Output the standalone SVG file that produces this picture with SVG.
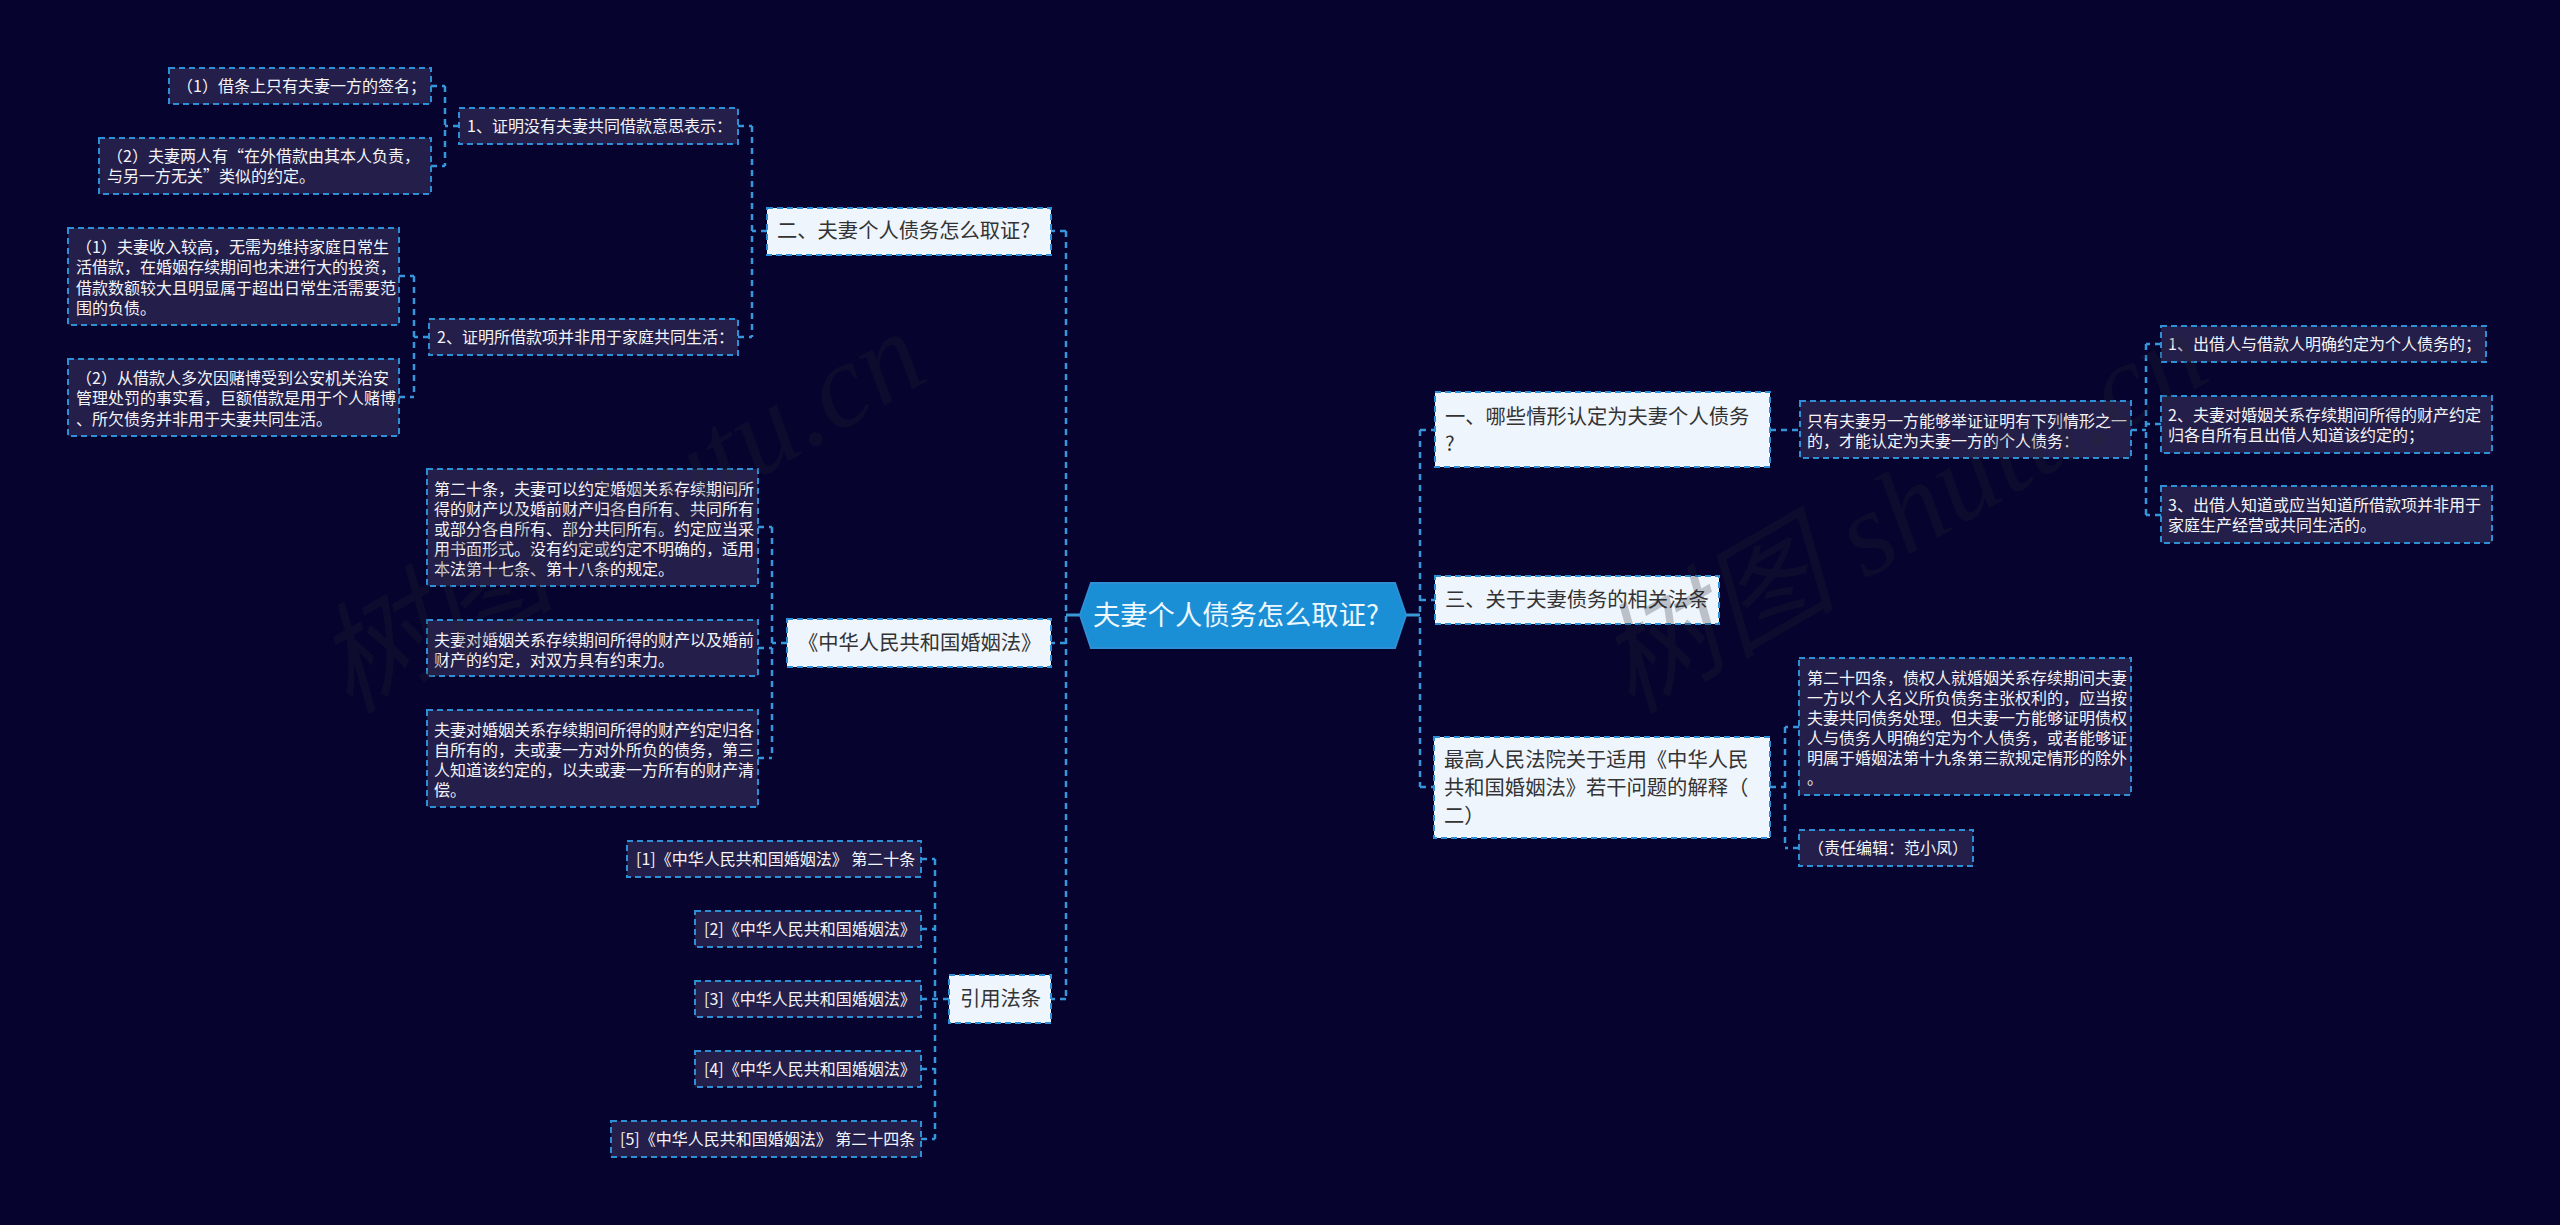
<svg xmlns="http://www.w3.org/2000/svg" width="2560" height="1225" viewBox="0 0 2560 1225">
<style>
text{font-family:"Noto Sans CJK SC","Noto Sans",sans-serif}
.d rect{fill:#241f4a;stroke:#2d8fd5;stroke-width:2;stroke-dasharray:6 4}
.d text{fill:#f4f4f8;font-size:16px}
.b rect{fill:#eff5fd;stroke:#2d8fd5;stroke-width:2;stroke-dasharray:6 4}
.b text{fill:#333;font-size:20.3px}
#connectors path{fill:none;stroke:#3596dc;stroke-width:2.5;stroke-dasharray:6 5}
#connectors path.s{stroke-dasharray:none;stroke:#3a9ad8;stroke-width:3}
#root polygon{fill:#1a8fd5;stroke:#2d8fd5;stroke-width:2}
#root text{fill:#eef8ff;font-size:27.3px}
.w text{font-family:"Liberation Serif","Noto Sans CJK SC",serif;fill:#23232f;fill-opacity:.25;font-size:120px;font-style:italic}
</style>
<rect width="2560" height="1225" fill="#06032e"/>
<g id="connectors">
<path class="s" d="M1080 615H1066"/><path class="s" d="M1406 615H1420"/>
<path d="M1066 231V999"/><path d="M1420 430V787"/>
<path d="M1066 231H1051M1066 643H1051M1066 999H1051"/>
<path d="M1420 430H1435M1420 600H1435M1420 787H1435"/>
<path d="M767 231H752M752 126V337M738 126H752M738 337H752"/>
<path d="M459 126H445M445 86V166M431 86H445M431 166H445"/>
<path d="M429 337H414M414 276V397M399 276H414M399 397H414"/>
<path d="M787 643H772M772 527V758M758 527H772M758 648H772M758 758H772"/>
<path d="M949 999H935M935 859V1139M921 859H935M921 929H935M921 999H935M921 1069H935M921 1139H935"/>
<path d="M1770 430H1800"/>
<path d="M2131 430H2146M2146 344V515M2161 344H2146M2161 424H2146M2161 515H2146"/>
<path d="M1770 787H1785M1785 727V848M1799 727H1785M1799 848H1785"/>
</g>
<g id="root"><polygon points="1080,615 1091,583 1395,583 1406,615 1395,648 1091,648"/><text x="1093" y="625">夫妻个人债务怎么取证?</text></g>

<g id="n-er" class="b"><rect x="767" y="208" width="284" height="47"/><text x="777" y="238">二、夫妻个人债务怎么取证?</text></g>
<g id="n-law" class="b"><rect x="787" y="619" width="264" height="48"/><text x="798" y="650">《中华人民共和国婚姻法》</text></g>
<g id="n-cite" class="b"><rect x="949" y="975" width="102" height="48"/><text x="960" y="1006">引用法条</text></g>
<g id="n-yi" class="b"><rect x="1435" y="392" width="335" height="75"/><text x="1445" y="424">一、哪些情形认定为夫妻个人债务<tspan x="1445" y="451">?</tspan></text></g>
<g id="n-san" class="b"><rect x="1435" y="576" width="284" height="48"/><text x="1445" y="607">三、关于夫妻债务的相关法条</text></g>
<g id="n-zuigao" class="b"><rect x="1434" y="737" width="336" height="101"/><text x="1444" y="767">最高人民法院关于适用《中华人民<tspan x="1444" y="795">共和国婚姻法》若干问题的解释（</tspan><tspan x="1444" y="823">二）</tspan></text></g>

<g id="a1" class="d"><rect x="169" y="68" width="262" height="36"/><text x="177" y="92">（1）借条上只有夫妻一方的签名；</text></g>
<g id="a2" class="d"><rect x="99" y="138" width="332" height="56"/><text x="107" y="162">（2）夫妻两人有“在外借款由其本人负责，<tspan x="107" y="182">与另一方无关”类似的约定。</tspan></text></g>
<g id="a3" class="d"><rect x="459" y="108" width="279" height="36"/><text x="467" y="132">1、证明没有夫妻共同借款意思表示：</text></g>
<g id="a4" class="d"><rect x="68" y="228" width="331" height="97"/><text x="76" y="253">（1）夫妻收入较高，无需为维持家庭日常生<tspan x="76" y="273">活借款，在婚姻存续期间也未进行大的投资，</tspan><tspan x="76" y="294">借款数额较大且明显属于超出日常生活需要范</tspan><tspan x="76" y="314">围的负债。</tspan></text></g>
<g id="a5" class="d"><rect x="68" y="359" width="331" height="77"/><text x="76" y="384">（2）从借款人多次因赌博受到公安机关治安<tspan x="76" y="404">管理处罚的事实看，巨额借款是用于个人赌博</tspan><tspan x="76" y="425">、所欠债务并非用于夫妻共同生活。</tspan></text></g>
<g id="a6" class="d"><rect x="429" y="319" width="309" height="36"/><text x="437" y="343">2、证明所借款项并非用于家庭共同生活：</text></g>

<g id="b1" class="d"><rect x="427" y="469" width="331" height="117"/><text x="434" y="495">第二十条，夫妻可以约定婚姻关系存续期间所<tspan x="434" y="515">得的财产以及婚前财产归各自所有、共同所有</tspan><tspan x="434" y="535">或部分各自所有、部分共同所有。约定应当采</tspan><tspan x="434" y="555">用书面形式。没有约定或约定不明确的，适用</tspan><tspan x="434" y="575">本法第十七条、第十八条的规定。</tspan></text></g>
<g id="b2" class="d"><rect x="427" y="620" width="331" height="56"/><text x="434" y="646">夫妻对婚姻关系存续期间所得的财产以及婚前<tspan x="434" y="666">财产的约定，对双方具有约束力。</tspan></text></g>
<g id="b3" class="d"><rect x="427" y="710" width="331" height="97"/><text x="434" y="736">夫妻对婚姻关系存续期间所得的财产约定归各<tspan x="434" y="756">自所有的，夫或妻一方对外所负的债务，第三</tspan><tspan x="434" y="776">人知道该约定的，以夫或妻一方所有的财产清</tspan><tspan x="434" y="796">偿。</tspan></text></g>

<g id="c1" class="d"><rect x="627" y="841" width="294" height="36"/><text x="636" y="865">[1]《中华人民共和国婚姻法》 第二十条</text></g>
<g id="c2" class="d"><rect x="695" y="911" width="226" height="36"/><text x="704" y="935">[2]《中华人民共和国婚姻法》</text></g>
<g id="c3" class="d"><rect x="695" y="981" width="226" height="36"/><text x="704" y="1005">[3]《中华人民共和国婚姻法》</text></g>
<g id="c4" class="d"><rect x="695" y="1051" width="226" height="36"/><text x="704" y="1075">[4]《中华人民共和国婚姻法》</text></g>
<g id="c5" class="d"><rect x="611" y="1121" width="310" height="36"/><text x="620" y="1145">[5]《中华人民共和国婚姻法》 第二十四条</text></g>

<g id="d1" class="d"><rect x="1800" y="401" width="331" height="57"/><text x="1807" y="427">只有夫妻另一方能够举证证明有下列情形之一<tspan x="1807" y="447">的，才能认定为夫妻一方的个人债务：</tspan></text></g>
<g id="d2" class="d"><rect x="2161" y="326" width="325" height="36"/><text x="2168" y="350">1、出借人与借款人明确约定为个人债务的；</text></g>
<g id="d3" class="d"><rect x="2161" y="396" width="331" height="57"/><text x="2168" y="421">2、夫妻对婚姻关系存续期间所得的财产约定<tspan x="2168" y="441">归各自所有且出借人知道该约定的；</tspan></text></g>
<g id="d4" class="d"><rect x="2161" y="486" width="331" height="57"/><text x="2168" y="511">3、出借人知道或应当知道所借款项并非用于<tspan x="2168" y="531">家庭生产经营或共同生活的。</tspan></text></g>
<g id="d5" class="d"><rect x="1799" y="658" width="332" height="137"/><text x="1807" y="684">第二十四条，债权人就婚姻关系存续期间夫妻<tspan x="1807" y="704">一方以个人名义所负债务主张权利的，应当按</tspan><tspan x="1807" y="724">夫妻共同债务处理。但夫妻一方能够证明债权</tspan><tspan x="1807" y="744">人与债务人明确约定为个人债务，或者能够证</tspan><tspan x="1807" y="764">明属于婚姻法第十九条第三款规定情形的除外</tspan><tspan x="1807" y="784">。</tspan></text></g>
<g id="d6" class="d"><rect x="1799" y="830" width="174" height="36"/><text x="1808" y="854">（责任编辑：范小凤）</text></g>

<g class="w">
<text transform="translate(349 715) rotate(-30)">树图 shutu.cn</text>
<text transform="translate(1631 715) rotate(-30)">树图 shutu.cn</text>
</g>
</svg>
